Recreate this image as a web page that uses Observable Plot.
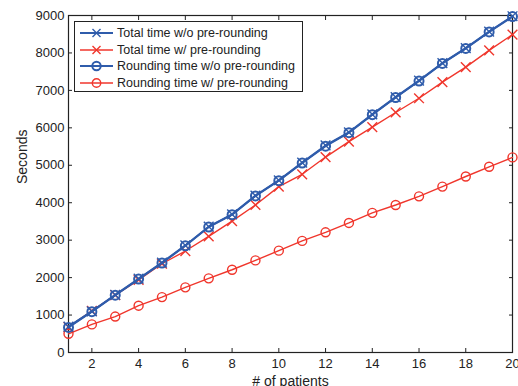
<!DOCTYPE html>
<html>
<head>
<meta charset="utf-8">
<script src="https://cdn.jsdelivr.net/npm/d3@7"></script>
<script src="https://cdn.jsdelivr.net/npm/@observablehq/plot@0.6"></script>
<style>
  html, body { margin: 0; padding: 0; background: #fff; }
  #wrap { position: relative; width: 518px; height: 386px; overflow: hidden; font-family: "Liberation Sans", Arial, sans-serif; }
  #legend { position: absolute; left: 74px; top: 21px; width: 227px; height: 69px; border: 1.5px solid #222; background: #fff; box-sizing: content-box; }
  #legend .row { position: absolute; left: 0; height: 16px; display: flex; align-items: center; font-size: 12.5px; color: #222; white-space: nowrap; }
  #legend svg { display: block; margin-left: 5px; margin-right: 4px; }
</style>
</head>
<body>
<div id="wrap"><div id="legend"></div></div>
<script>
const patients = [1,2,3,4,5,6,7,8,9,10,11,12,13,14,15,16,17,18,19,20];
const totalWo  = [690,1100,1540,1970,2400,2860,3360,3690,4190,4600,5070,5530,5880,6360,6820,7260,7730,8130,8570,8980];
const roundWo  = [670,1090,1530,1960,2390,2850,3350,3680,4180,4590,5060,5510,5870,6350,6810,7250,7720,8120,8560,8970];
const totalW   = [680,1110,1530,1940,2370,2710,3100,3510,3940,4430,4760,5220,5630,6020,6410,6790,7220,7620,8070,8490];
const roundW   = [500,750,960,1250,1480,1740,1980,2210,2460,2720,2980,3210,3460,3730,3940,4170,4430,4700,4960,5210];
const seriesNames = ["Total time w/o pre-rounding","Total time w/ pre-rounding","Rounding time w/o pre-rounding","Rounding time w/ pre-rounding"];
const xTicks = [2,4,6,8,10,12,14,16,18,20];
const yTicks = [0,1000,2000,3000,4000,5000,6000,7000,8000,9000];
const xLabel = "# of patients";
const yLabel = "Seconds";

const BLUE = "#2f5cab", RED = "#f0362c";
const series = [
  {name: seriesNames[0], values: totalWo, color: BLUE, symbol: "times", width: 2},
  {name: seriesNames[1], values: totalW,  color: RED,  symbol: "times", width: 1.4},
  {name: seriesNames[2], values: roundWo, color: BLUE, symbol: "circle", width: 2},
  {name: seriesNames[3], values: roundW,  color: RED,  symbol: "circle", width: 1.4}
];
const rows = s => patients.map((p, i) => ({x: p, y: s.values[i]}));
const order = [1, 3, 0, 2];
const fmt = d3.format("d");

const marks = [
  Plot.frame({stroke: "#222", strokeWidth: 1.2}),
  Plot.axisX(xTicks, {anchor: "bottom", tickSize: 0, tickPadding: 6, tickFormat: fmt, label: null, fontSize: 13}),
  Plot.axisX(xTicks, {anchor: "bottom", tickSize: -4, fill: "none", label: null}),
  Plot.axisX(xTicks, {anchor: "top", tickSize: -4, fill: "none", label: null}),
  Plot.axisY(yTicks, {anchor: "left", tickSize: 0, tickPadding: 4, tickFormat: fmt, label: null, fontSize: 13}),
  Plot.axisY(yTicks, {anchor: "left", tickSize: -4, fill: "none", label: null}),
  Plot.axisY(yTicks, {anchor: "right", tickSize: -4, fill: "none", label: null}),
  Plot.text([xLabel], {frameAnchor: "bottom", dy: 29, lineAnchor: "middle", text: d => d, fontSize: 14, fill: "#222"}),
  Plot.text([yLabel], {frameAnchor: "left", dx: -46, rotate: -90, text: d => d, fontSize: 14, fill: "#222"})
];
for (const k of order) {
  const s = series[k];
  marks.push(Plot.line(rows(s), {x: "x", y: "y", stroke: s.color, strokeWidth: s.width}));
  marks.push(Plot.dot(rows(s), {x: "x", y: "y", stroke: s.color, strokeWidth: s.symbol === "times" ? 1.4 : s.width, symbol: s.symbol, r: 4.5, fill: "none"}));
}

const chart = Plot.plot({
  width: 518, height: 386,
  marginLeft: 68, marginRight: 6, marginTop: 15, marginBottom: 34,
  style: {fontFamily: "'Liberation Sans', Arial, sans-serif", fontSize: "13px", color: "#222", background: "white", overflow: "visible"},
  x: {type: "linear", domain: [1, 20]},
  y: {type: "linear", domain: [0, 9000]},
  marks
});
document.getElementById("wrap").prepend(chart);

// Legend
const legend = document.getElementById("legend");
series.forEach((s, i) => {
  const row = document.createElement("div");
  row.className = "row";
  row.style.top = (3 + i * 16.7) + "px";
  const svg = d3.create("svg").attr("width", 33).attr("height", 12);
  svg.append("line").attr("x1", 0).attr("x2", 33).attr("y1", 6).attr("y2", 6).attr("stroke", s.color).attr("stroke-width", s.width);
  if (s.symbol === "circle") {
    svg.append("circle").attr("cx", 16.5).attr("cy", 6).attr("r", 4.2).attr("fill", "none").attr("stroke", s.color).attr("stroke-width", s.width);
  } else {
    svg.append("path").attr("d", "M12.5,2L20.5,10M12.5,10L20.5,2").attr("stroke", s.color).attr("stroke-width", 1.4);
  }
  row.appendChild(svg.node());
  const t = document.createElement("span");
  t.textContent = s.name;
  row.appendChild(t);
  legend.appendChild(row);
});
</script>
</body>
</html>
